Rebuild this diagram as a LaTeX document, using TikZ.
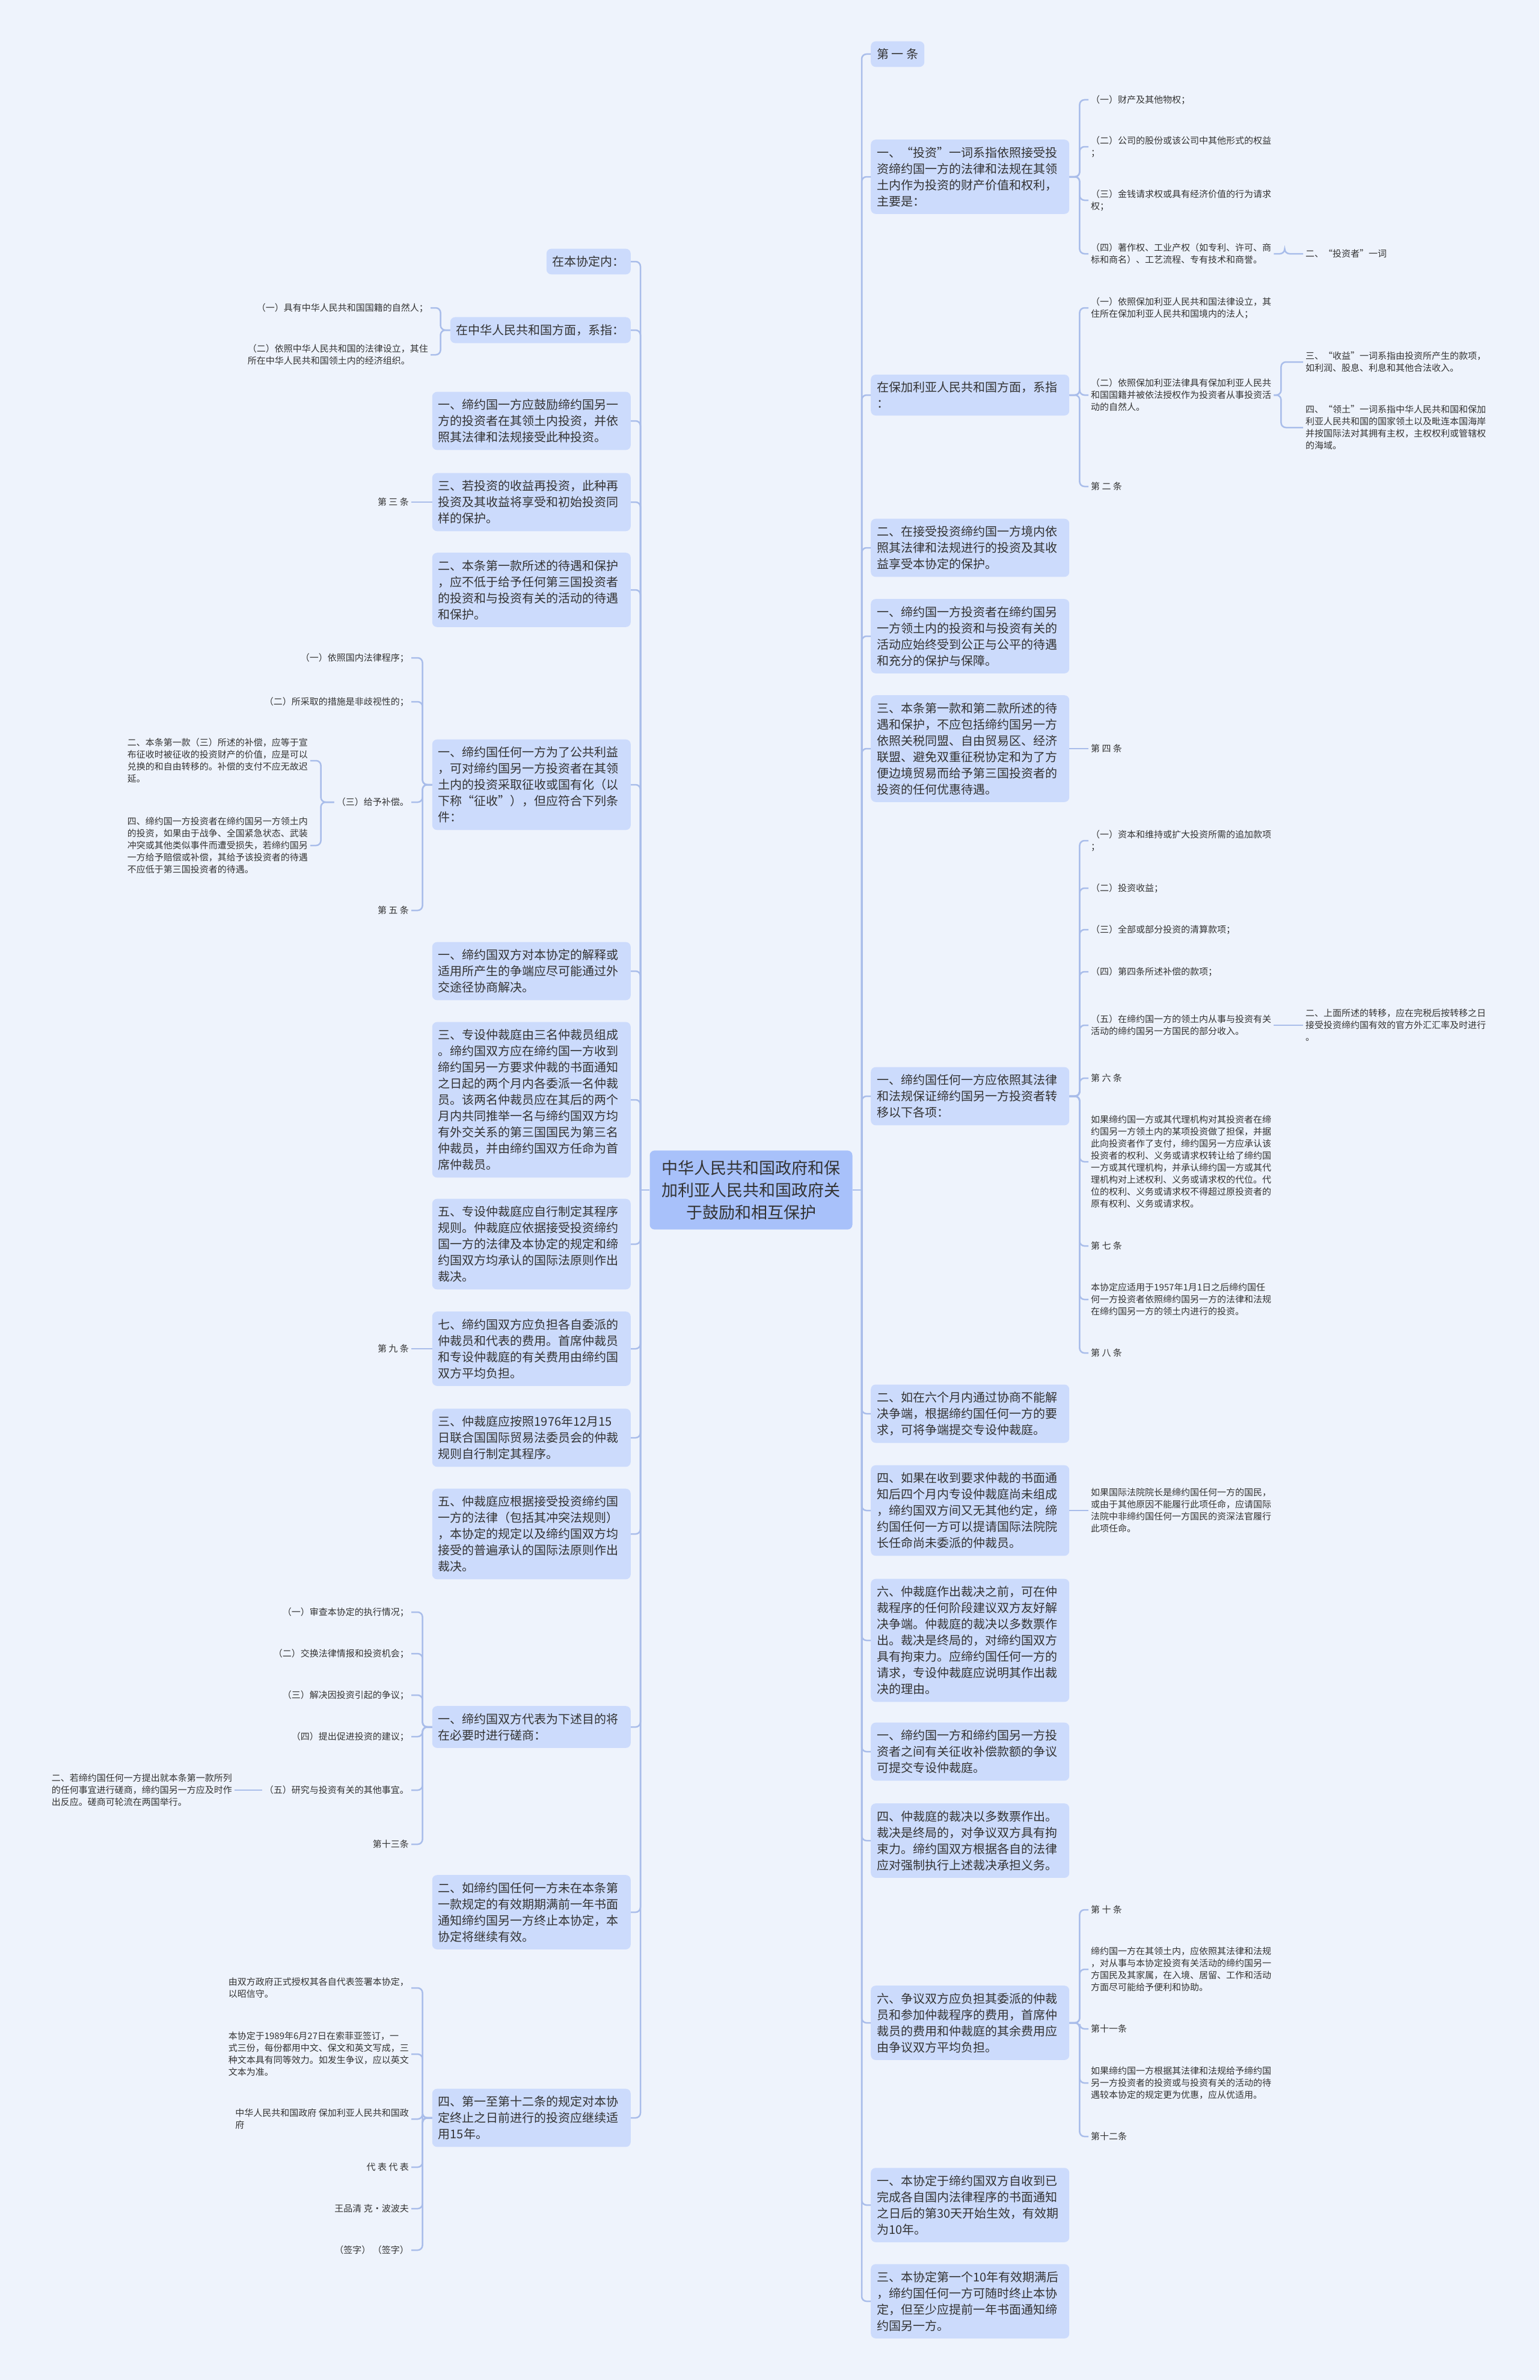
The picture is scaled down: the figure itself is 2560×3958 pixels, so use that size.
\documentclass[tikz,border=0pt]{standalone}
\usepackage{fontspec}
\setmainfont{Noto Sans CJK SC}
\usepackage{tikz}

\definecolor{bgcol}{HTML}{EEF3FC}
\definecolor{boxcol}{HTML}{CCDBFC}
\definecolor{rootcol}{HTML}{A8C1FA}
\definecolor{linecol}{HTML}{A9BDEA}
\definecolor{txtcol}{HTML}{333333}

\tikzset{
    box/.style={fill=boxcol, rounded corners=8pt, inner xsep=10pt, inner ysep=12pt, align=left, text=txtcol, font=\fontsize{20}{27}\selectfont},
    wbox/.style={box, text width=310pt},
    rootbox/.style={fill=rootcol, rounded corners=8pt, inner xsep=20pt, inner ysep=16pt, align=center, text=txtcol, font=\fontsize{27}{37}\selectfont},
    leaf/.style={inner xsep=4pt, inner ysep=2pt, align=left, text=txtcol, font=\fontsize{15}{20}\selectfont},
    link/.style={draw=linecol, line width=2.5pt, rounded corners=8pt}
}

\begin{document}
\begin{tikzpicture}[x=1pt, y=-1pt]
        \def\rbox{1448}
        \def\rleaf{1810}
        \def\rsub{2167}
        \def\lbox{1049}
        \def\lleaf{684}
        \def\lsub{516}

        % background
        \useasboundingbox (0,0) rectangle (2560,3958);
        \fill[bgcol] (0,0) rectangle (2560,3958);

        \node[rootbox] (root) at (1249,1979) {中华人民共和国政府和保\\加利亚人民共和国政府关\\于鼓励和相互保护};
        \coordinate (rt) at (1433,1979);
        \coordinate (lt) at (1065,1979);

        % right side
        \node[box, anchor=west] (r1) at (\rbox,90) {第 一 条};
        \node[wbox, anchor=west] (r2) at (\rbox,294) {一、“投资”一词系指依照接受投\\资缔约国一方的法律和法规在其领\\土内作为投资的财产价值和权利，\\主要是：};
        \node[leaf, anchor=west] (r2a) at (\rleaf,166) {（一）财产及其他物权；};
        \node[leaf, anchor=west] (r2b) at (\rleaf,244) {（二）公司的股份或该公司中其他形式的权益\\；};
        \node[leaf, anchor=west] (r2c) at (\rleaf,333) {（三）金钱请求权或具有经济价值的行为请求\\权；};
        \node[leaf, anchor=west] (r2d) at (\rleaf,422) {（四）著作权、工业产权（如专利、许可、商\\标和商名）、工艺流程、专有技术和商誉。};
        \node[leaf, anchor=west] (r2d1) at (\rsub,422) {二、“投资者”一词};

        \node[wbox, anchor=west] (r3) at (\rbox,657) {在保加利亚人民共和国方面，系指\\：};
        \node[leaf, anchor=west] (r3a) at (\rleaf,512) {（一）依照保加利亚人民共和国法律设立，其\\住所在保加利亚人民共和国境内的法人；};
        \node[leaf, anchor=west] (r3b) at (\rleaf,657) {（二）依照保加利亚法律具有保加利亚人民共\\和国国籍并被依法授权作为投资者从事投资活\\动的自然人。};
        \node[leaf, anchor=west] (r3b1) at (\rsub,602) {三、“收益”一词系指由投资所产生的款项，\\如利润、股息、利息和其他合法收入。};
        \node[leaf, anchor=west] (r3b2) at (\rsub,711) {四、“领土”一词系指中华人民共和国和保加\\利亚人民共和国的国家领土以及毗连本国海岸\\并按国际法对其拥有主权，主权权利或管辖权\\的海域。};
        \node[leaf, anchor=west] (r3c) at (\rleaf,809) {第 二 条};

        \node[wbox, anchor=west] (r4) at (\rbox,911) {二、在接受投资缔约国一方境内依\\照其法律和法规进行的投资及其收\\益享受本协定的保护。};
        \node[wbox, anchor=west] (r5) at (\rbox,1058) {一、缔约国一方投资者在缔约国另\\一方领土内的投资和与投资有关的\\活动应始终受到公正与公平的待遇\\和充分的保护与保障。};
        \node[wbox, anchor=west] (r6) at (\rbox,1245) {三、本条第一款和第二款所述的待\\遇和保护，不应包括缔约国另一方\\依照关税同盟、自由贸易区、经济\\联盟、避免双重征税协定和为了方\\便边境贸易而给予第三国投资者的\\投资的任何优惠待遇。};
        \node[leaf, anchor=west] (r6a) at (\rleaf,1245) {第 四 条};

        \node[wbox, anchor=west] (r7) at (\rbox,1823) {一、缔约国任何一方应依照其法律\\和法规保证缔约国另一方投资者转\\移以下各项：};
        \node[leaf, anchor=west] (r7a) at (\rleaf,1398) {（一）资本和维持或扩大投资所需的追加款项\\；};
        \node[leaf, anchor=west] (r7b) at (\rleaf,1477) {（二）投资收益；};
        \node[leaf, anchor=west] (r7c) at (\rleaf,1546) {（三）全部或部分投资的清算款项；};
        \node[leaf, anchor=west] (r7d) at (\rleaf,1616) {（四）第四条所述补偿的款项；};
        \node[leaf, anchor=west] (r7e) at (\rleaf,1705) {（五）在缔约国一方的领土内从事与投资有关\\活动的缔约国另一方国民的部分收入。};
        \node[leaf, anchor=west] (r7e1) at (\rsub,1705) {二、上面所述的转移，应在完税后按转移之日\\接受投资缔约国有效的官方外汇汇率及时进行\\。};
        \node[leaf, anchor=west] (r7f) at (\rleaf,1793) {第 六 条};
        \node[leaf, anchor=west] (r7g) at (\rleaf,1932) {如果缔约国一方或其代理机构对其投资者在缔\\约国另一方领土内的某项投资做了担保，并据\\此向投资者作了支付，缔约国另一方应承认该\\投资者的权利、义务或请求权转让给了缔约国\\一方或其代理机构，并承认缔约国一方或其代\\理机构对上述权利、义务或请求权的代位。代\\位的权利、义务或请求权不得超过原投资者的\\原有权利、义务或请求权。};
        \node[leaf, anchor=west] (r7h) at (\rleaf,2072) {第 七 条};
        \node[leaf, anchor=west] (r7i) at (\rleaf,2161) {本协定应适用于1957年1月1日之后缔约国任\\何一方投资者依照缔约国另一方的法律和法规\\在缔约国另一方的领土内进行的投资。};
        \node[leaf, anchor=west] (r7j) at (\rleaf,2250) {第 八 条};

        \node[wbox, anchor=west] (r8) at (\rbox,2351) {二、如在六个月内通过协商不能解\\决争端，根据缔约国任何一方的要\\求，可将争端提交专设仲裁庭。};
        \node[wbox, anchor=west] (r9) at (\rbox,2512) {四、如果在收到要求仲裁的书面通\\知后四个月内专设仲裁庭尚未组成\\，缔约国双方间又无其他约定，缔\\约国任何一方可以提请国际法院院\\长任命尚未委派的仲裁员。};
        \node[leaf, anchor=west] (r9a) at (\rleaf,2512) {如果国际法院院长是缔约国任何一方的国民，\\或由于其他原因不能履行此项任命，应请国际\\法院中非缔约国任何一方国民的资深法官履行\\此项任命。};
        \node[wbox, anchor=west] (r10) at (\rbox,2728) {六、仲裁庭作出裁决之前，可在仲\\裁程序的任何阶段建议双方友好解\\决争端。仲裁庭的裁决以多数票作\\出。裁决是终局的，对缔约国双方\\具有拘束力。应缔约国任何一方的\\请求，专设仲裁庭应说明其作出裁\\决的理由。};
        \node[wbox, anchor=west] (r11) at (\rbox,2913) {一、缔约国一方和缔约国另一方投\\资者之间有关征收补偿款额的争议\\可提交专设仲裁庭。};
        \node[wbox, anchor=west] (r12) at (\rbox,3061) {四、仲裁庭的裁决以多数票作出。\\裁决是终局的，对争议双方具有拘\\束力。缔约国双方根据各自的法律\\应对强制执行上述裁决承担义务。};

        \node[wbox, anchor=west] (r13) at (\rbox,3364) {六、争议双方应负担其委派的仲裁\\员和参加仲裁程序的费用，首席仲\\裁员的费用和仲裁庭的其余费用应\\由争议双方平均负担。};
        \node[leaf, anchor=west] (r13a) at (\rleaf,3176) {第 十 条};
        \node[leaf, anchor=west] (r13b) at (\rleaf,3275) {缔约国一方在其领土内，应依照其法律和法规\\，对从事与本协定投资有关活动的缔约国另一\\方国民及其家属，在入境、居留、工作和活动\\方面尽可能给予便利和协助。};
        \node[leaf, anchor=west] (r13c) at (\rleaf,3374) {第十一条};
        \node[leaf, anchor=west] (r13d) at (\rleaf,3464) {如果缔约国一方根据其法律和法规给予缔约国\\另一方投资者的投资或与投资有关的活动的待\\遇较本协定的规定更为优惠，应从优适用。};
        \node[leaf, anchor=west] (r13e) at (\rleaf,3553) {第十二条};

        \node[wbox, anchor=west] (r14) at (\rbox,3667) {一、本协定于缔约国双方自收到已\\完成各自国内法律程序的书面通知\\之日后的第30天开始生效，有效期\\为10年。};
        \node[wbox, anchor=west] (r15) at (\rbox,3827) {三、本协定第一个10年有效期满后\\，缔约国任何一方可随时终止本协\\定，但至少应提前一年书面通知缔\\约国另一方。};

        % left side
        \node[box, anchor=east] (l1) at (\lbox,435) {在本协定内：};
        \node[box, anchor=east] (l2) at (\lbox,549) {在中华人民共和国方面，系指：};
        \node[leaf, anchor=east] (l2a) at (716,512) {（一）具有中华人民共和国国籍的自然人；};
        \node[leaf, anchor=east] (l2b) at (716,590) {（二）依照中华人民共和国的法律设立，其住\\所在中华人民共和国领土内的经济组织。};
        \node[wbox, anchor=east] (l3) at (\lbox,700) {一、缔约国一方应鼓励缔约国另一\\方的投资者在其领土内投资，并依\\照其法律和法规接受此种投资。};
        \node[wbox, anchor=east] (l4) at (\lbox,835) {三、若投资的收益再投资，此种再\\投资及其收益将享受和初始投资同\\样的保护。};
        \node[leaf, anchor=east] (l4a) at (\lleaf,835) {第 三 条};
        \node[wbox, anchor=east] (l5) at (\lbox,981) {二、本条第一款所述的待遇和保护\\，应不低于给予任何第三国投资者\\的投资和与投资有关的活动的待遇\\和保护。};

        \node[wbox, anchor=east] (l6) at (\lbox,1305) {一、缔约国任何一方为了公共利益\\，可对缔约国另一方投资者在其领\\土内的投资采取征收或国有化（以\\下称“征收”），但应符合下列条\\件：};
        \node[leaf, anchor=east] (l6a) at (\lleaf,1094) {（一）依照国内法律程序；};
        \node[leaf, anchor=east] (l6b) at (\lleaf,1167) {（二）所采取的措施是非歧视性的；};
        \node[leaf, anchor=east] (l6c) at (\lleaf,1334) {（三）给予补偿。};
        \node[leaf, anchor=east] (l6c1) at (\lsub,1265) {二、本条第一款（三）所述的补偿，应等于宣\\布征收时被征收的投资财产的价值，应是可以\\兑换的和自由转移的。补偿的支付不应无故迟\\延。};
        \node[leaf, anchor=east] (l6c2) at (\lsub,1406) {四、缔约国一方投资者在缔约国另一方领土内\\的投资，如果由于战争、全国紧急状态、武装\\冲突或其他类似事件而遭受损失，若缔约国另\\一方给予赔偿或补偿，其给予该投资者的待遇\\不应低于第三国投资者的待遇。};
        \node[leaf, anchor=east] (l6d) at (\lleaf,1514) {第 五 条};

        \node[wbox, anchor=east] (l7) at (\lbox,1615) {一、缔约国双方对本协定的解释或\\适用所产生的争端应尽可能通过外\\交途径协商解决。};
        \node[wbox, anchor=east] (l8) at (\lbox,1829) {三、专设仲裁庭由三名仲裁员组成\\。缔约国双方应在缔约国一方收到\\缔约国另一方要求仲裁的书面通知\\之日起的两个月内各委派一名仲裁\\员。该两名仲裁员应在其后的两个\\月内共同推举一名与缔约国双方均\\有外交关系的第三国国民为第三名\\仲裁员，并由缔约国双方任命为首\\席仲裁员。};
        \node[wbox, anchor=east] (l9) at (\lbox,2069) {五、专设仲裁庭应自行制定其程序\\规则。仲裁庭应依据接受投资缔约\\国一方的法律及本协定的规定和缔\\约国双方均承认的国际法原则作出\\裁决。};
        \node[wbox, anchor=east] (l10) at (\lbox,2243) {七、缔约国双方应负担各自委派的\\仲裁员和代表的费用。首席仲裁员\\和专设仲裁庭的有关费用由缔约国\\双方平均负担。};
        \node[leaf, anchor=east] (l10a) at (\lleaf,2243) {第 九 条};
        \node[wbox, anchor=east] (l11) at (\lbox,2391) {三、仲裁庭应按照1976年12月15\\日联合国国际贸易法委员会的仲裁\\规则自行制定其程序。};
        \node[wbox, anchor=east] (l12) at (\lbox,2551) {五、仲裁庭应根据接受投资缔约国\\一方的法律（包括其冲突法规则）\\，本协定的规定以及缔约国双方均\\接受的普遍承认的国际法原则作出\\裁决。};

        \node[wbox, anchor=east] (l13) at (\lbox,2872) {一、缔约国双方代表为下述目的将\\在必要时进行磋商：};
        \node[leaf, anchor=east] (l13a) at (\lleaf,2681) {（一）审查本协定的执行情况；};
        \node[leaf, anchor=east] (l13b) at (\lleaf,2750) {（二）交换法律情报和投资机会；};
        \node[leaf, anchor=east] (l13c) at (\lleaf,2819) {（三）解决因投资引起的争议；};
        \node[leaf, anchor=east] (l13d) at (\lleaf,2888) {（四）提出促进投资的建议；};
        \node[leaf, anchor=east] (l13e) at (\lleaf,2977) {（五）研究与投资有关的其他事宜。};
        \node[leaf, anchor=east] (l13e1) at (390,2977) {二、若缔约国任何一方提出就本条第一款所列\\的任何事宜进行磋商，缔约国另一方应及时作\\出反应。磋商可轮流在两国举行。};
        \node[leaf, anchor=east] (l13f) at (\lleaf,3067) {第十三条};

        \node[wbox, anchor=east] (l14) at (\lbox,3180) {二、如缔约国任何一方未在本条第\\一款规定的有效期期满前一年书面\\通知缔约国另一方终止本协定，本\\协定将继续有效。};
        \node[wbox, anchor=east] (l15) at (\lbox,3522) {四、第一至第十二条的规定对本协\\定终止之日前进行的投资应继续适\\用15年。};
        \node[leaf, anchor=east] (l15a) at (\lleaf,3306) {由双方政府正式授权其各自代表签署本协定，\\以昭信守。};
        \node[leaf, anchor=east] (l15b) at (\lleaf,3416) {本协定于1989年6月27日在索菲亚签订，一\\式三份，每份都用中文、保文和英文写成，三\\种文本具有同等效力。如发生争议，应以英文\\文本为准。};
        \node[leaf, anchor=east] (l15c) at (\lleaf,3524) {中华人民共和国政府 保加利亚人民共和国政\\府};
        \node[leaf, anchor=east] (l15d) at (\lleaf,3604) {代 表 代 表};
        \node[leaf, anchor=east] (l15e) at (\lleaf,3673) {王品清 克·波波夫};
        \node[leaf, anchor=east] (l15f) at (\lleaf,3742) {（签字） （签字）};

        % trunks
        \draw[link] (root.east) -- (rt);
        \draw[link] (root.west) -- (lt);
        \foreach \i in {1,...,15}
        {
            \draw[link] (rt) |- (r\i.west);
            \draw[link] (lt) |- (l\i.east);
        }

        % right branches
        \foreach \c in {r2a,r2b,r2c,r2d}
        {
            \draw[link] (r2.east) -- ++(17,0) |- (\c.west);
        }
        \draw[link] (r2d.east) -- ++(18,0) |- (r2d1.west);
        \foreach \c in {r3a,r3b,r3c}
        {
            \draw[link] (r3.east) -- ++(17,0) |- (\c.west);
        }
        \foreach \c in {r3b1,r3b2}
        {
            \draw[link] (r3b.east) -- ++(12,0) |- (\c.west);
        }
        \draw[link] (r6.east) -- (r6a.west);
        \foreach \c in {r7a,r7b,r7c,r7d,r7e,r7f,r7g,r7h,r7i,r7j}
        {
            \draw[link] (r7.east) -- ++(17,0) |- (\c.west);
        }
        \draw[link] (r7e.east) -- (r7e1.west);
        \draw[link] (r9.east) -- (r9a.west);
        \foreach \c in {r13a,r13b,r13c,r13d,r13e}
        {
            \draw[link] (r13.east) -- ++(17,0) |- (\c.west);
        }

        % left branches
        \foreach \c in {l2a,l2b}
        {
            \draw[link] (l2.west) -- ++(-16,0) |- (\c.east);
        }
        \draw[link] (l4.west) -- (l4a.east);
        \foreach \c in {l6a,l6b,l6c,l6d}
        {
            \draw[link] (l6.west) -- ++(-16,0) |- (\c.east);
        }
        \foreach \c in {l6c1,l6c2}
        {
            \draw[link] (l6c.west) -- ++(-22,0) |- (\c.east);
        }
        \draw[link] (l10.west) -- (l10a.east);
        \foreach \c in {l13a,l13b,l13c,l13d,l13e,l13f}
        {
            \draw[link] (l13.west) -- ++(-16,0) |- (\c.east);
        }
        \draw[link] (l13e.west) -- (l13e1.east);
        \foreach \c in {l15a,l15b,l15c,l15d,l15e,l15f}
        {
            \draw[link] (l15.west) -- ++(-16,0) |- (\c.east);
        }
    \end{tikzpicture}
\end{document}
